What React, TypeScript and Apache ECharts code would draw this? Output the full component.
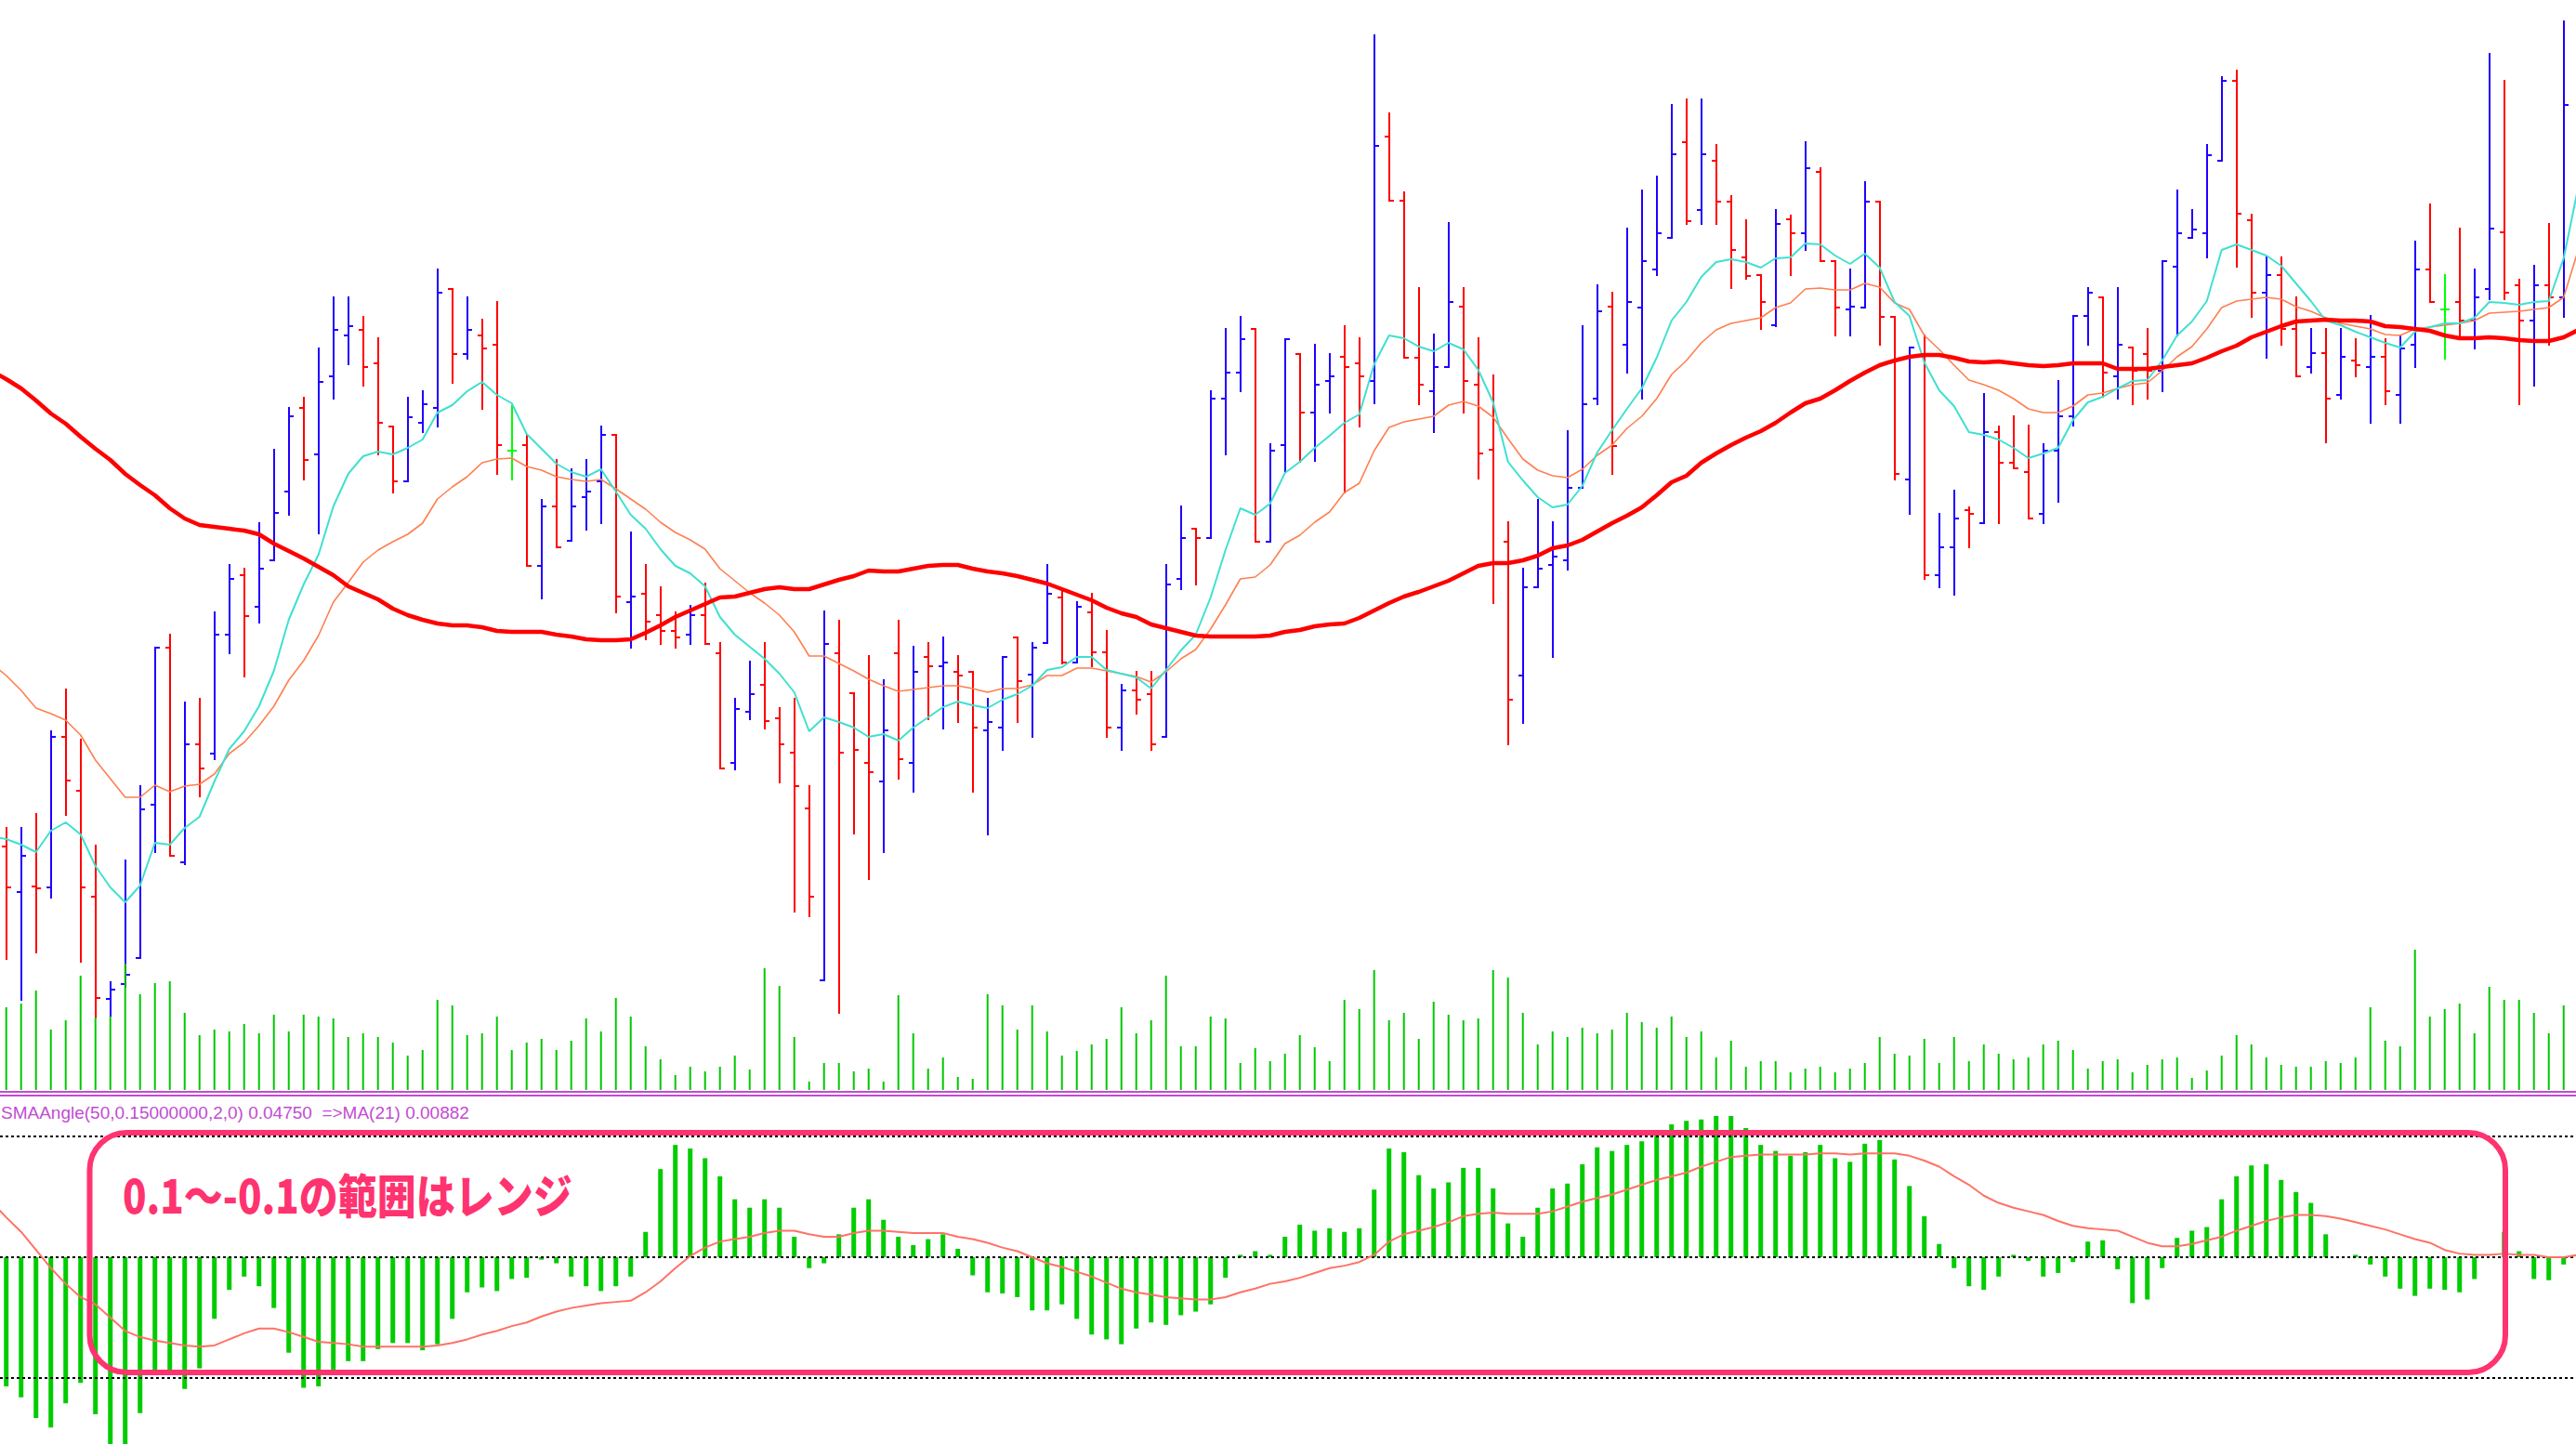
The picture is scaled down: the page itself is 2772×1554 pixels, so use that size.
import React, { useEffect, useRef } from "react";
import * as echarts from "echarts";

const WIDTH = 2772;
const HEIGHT = 1554;

// ---- price bars (points) ----
const opens = [
  289, 240, 246, 245, 407, 349, 235, 125, 141, 169,
  334, 503, 272, 399, 389, 517, 581, 547, 597, 671,
  761, 711, 795, 839, 845, 809, 741, 682, 745, 761,
  889, 819, 839, 829, 715, 721, 591, 655, 618, 665,
  682, 732, 552, 561, 538, 521, 517, 538, 497, 379,
  434, 463, 427, 390, 330, 145, 497, 454, 379, 359,
  497, 379, 493, 483, 477, 477, 414, 417, 514, 474,
  508, 557, 487, 541, 498, 417, 457, 453, 407, 577,
  631, 621, 771, 799, 846, 617, 721, 819, 756, 790,
  816, 809, 790, 1053, 984, 815, 779, 805, 870, 786,
  716, 617, 473, 568, 592, 597, 675, 771, 870, 829,
  869, 910, 944, 1047, 974, 1027, 983, 923, 904, 850,
  964, 949, 1015, 919, 867, 869, 983, 859, 684, 818,
  581, 611, 651, 637, 735, 702, 692, 647, 715, 752,
  860, 880, 795, 826, 819, 801, 913, 944, 949, 1027,
  1113, 963, 885, 904, 846, 805, 820, 775, 812, 805,
  816, 775, 829, 910, 867, 875, 855, 889, 950, 893,
  855, 893, 880,
];
const highs = [
  309, 309, 324, 413, 458, 404, 290, 143, 274, 354,
  503, 517, 444, 448, 541, 592, 588, 637, 716, 761,
  772, 825, 880, 880, 859, 836, 741, 772, 779, 910,
  889, 880, 856, 875, 763, 732, 662, 705, 695, 705,
  741, 732, 627, 592, 568, 541, 548, 572, 508, 448,
  488, 508, 438, 448, 354, 542, 532, 454, 494, 468,
  532, 504, 508, 514, 494, 477, 448, 493, 514, 508,
  592, 566, 552, 561, 521, 463, 477, 477, 592, 655,
  631, 779, 846, 859, 846, 722, 835, 819, 829, 819,
  849, 836, 1162, 1078, 993, 890, 840, 960, 890, 836,
  796, 638, 588, 662, 638, 736, 849, 893, 885, 954,
  995, 1010, 1087, 1093, 1093, 1044, 989, 963, 904, 974,
  968, 1047, 1019, 919, 910, 1004, 983, 859, 826, 839,
  647, 672, 654, 776, 741, 752, 742, 722, 790, 860,
  890, 880, 890, 826, 846, 919, 995, 974, 1044, 1117,
  1124, 969, 923, 923, 880, 846, 846, 846, 835, 860,
  835, 839, 940, 980, 904, 954, 910, 1142, 1113, 899,
  914, 959, 1177,
];
const lows = [
  168, 124, 175, 234, 323, 165, 105, 107, 138, 169,
  283, 279, 270, 343, 383, 497, 472, 530, 597, 646,
  684, 626, 771, 808, 785, 711, 670, 682, 735, 741,
  788, 814, 760, 690, 684, 591, 556, 611, 618, 630,
  637, 541, 503, 512, 507, 503, 507, 507, 373, 372,
  426, 416, 358, 219, 214, 145, 110, 303, 254, 283,
  362, 348, 426, 416, 423, 348, 302, 393, 423, 407,
  508, 486, 487, 483, 407, 393, 432, 393, 407, 566,
  571, 621, 711, 779, 617, 617, 692, 703, 704, 756,
  670, 741, 766, 984, 815, 765, 735, 805, 756, 685,
  551, 399, 422, 568, 493, 587, 675, 765, 690, 799,
  771, 904, 944, 959, 959, 959, 890, 900, 846, 849,
  904, 931, 919, 839, 839, 869, 829, 684, 647, 577,
  568, 560, 611, 637, 637, 696, 642, 637, 660, 742,
  829, 773, 771, 765, 771, 779, 839, 944, 923, 1027,
  913, 859, 815, 829, 795, 799, 724, 771, 795, 745,
  765, 745, 805, 875, 814, 836, 825, 878, 878, 765,
  785, 829, 859,
];
const closes = [
  245, 279, 244, 407, 360, 245, 126, 135, 151, 329,
  503, 279, 399, 373, 517, 577, 537, 588, 648, 752,
  705, 789, 845, 849, 805, 745, 682, 751, 765, 885,
  819, 845, 825, 721, 715, 591, 655, 611, 655, 671,
  732, 558, 558, 531, 521, 514, 538, 507, 373, 437,
  453, 424, 399, 354, 235, 507, 390, 393, 369, 414,
  383, 477, 483, 487, 473, 417, 423, 493, 467, 503,
  561, 487, 547, 498, 417, 457, 447, 399, 571, 621,
  621, 771, 799, 835, 617, 715, 835, 756, 786, 795,
  805, 795, 1043, 984, 815, 786, 805, 875, 790, 712,
  595, 447, 568, 588, 601, 675, 765, 865, 720, 875,
  919, 949, 1034, 962, 1034, 983, 931, 903, 875, 959,
  949, 1019, 919, 869, 870, 983, 859, 690, 826, 581,
  611, 642, 647, 735, 702, 696, 642, 715, 752, 860,
  885, 799, 829, 801, 801, 919, 949, 953, 1033, 1113,
  970, 885, 904, 846, 795, 820, 771, 816, 807, 816,
  779, 825, 910, 875, 867, 855, 880, 954, 885, 855,
  893, 880, 1087,
];
const volumes = [
  89, 93, 107, 65, 75, 123, 78, 79, 136, 103,
  115, 117, 83, 59, 65, 63, 71, 61, 81, 63,
  81, 79, 77, 57, 61, 57, 51, 37, 43, 97,
  91, 59, 61, 79, 43, 51, 55, 43, 53, 77,
  63, 99, 79, 47, 33, 16, 25, 20, 25, 37,
  22, 131, 112, 57, 9, 29, 29, 20, 23, 9,
  102, 61, 23, 35, 14, 12, 103, 91, 65, 91,
  63, 37, 42, 49, 55, 89, 61, 75, 123, 47,
  47, 79, 77, 29, 45, 31, 39, 59, 46, 31,
  97, 87, 129, 75, 83, 55, 95, 81, 75, 77,
  129, 121, 83, 49, 63, 57, 67, 61, 65, 83,
  73, 67, 79, 57, 63, 35, 53, 25, 31, 31,
  19, 23, 25, 19, 23, 29, 57, 39, 37, 55,
  29, 57, 31, 49, 39, 33, 35, 49, 53, 43,
  23, 31, 33, 19, 27, 33, 35, 13, 21, 37,
  59, 49, 35, 27, 25, 25, 31, 29, 35, 89,
  53, 47, 151, 79, 87, 93, 61, 111, 97, 97,
  83, 61, 91,
];

// ---- moving averages on price (points); first value belongs to the bar just left of the view ----
const MA_FIRST_BAR = -1;
const maFast = [
  300,
  297, 291, 283, 306, 315, 302, 268, 245, 229, 247,
  293, 291, 309, 321, 359, 394, 413, 440, 478, 533,
  571, 603, 655, 690, 709, 714, 711, 718, 727, 756,
  764, 779, 789, 775, 766, 733, 717, 701, 692, 687,
  695, 671, 646, 631, 609, 591, 583, 569, 536, 517,
  504, 491, 475, 455, 413, 428, 423, 417, 407, 410,
  403, 417, 428, 439, 445, 441, 438, 447, 453, 462,
  479, 482, 493, 493, 479, 475, 471, 459, 479, 500,
  517, 557, 608, 653, 646, 658, 691, 703, 718, 731,
  745, 754, 808, 839, 836, 827, 822, 831, 824, 802,
  767, 703, 683, 665, 654, 657, 677, 713, 737, 760,
  782, 815, 855, 875, 902, 918, 921, 918, 912, 922,
  923, 938, 937, 925, 916, 927, 912, 875, 860, 810,
  780, 763, 735, 732, 727, 718, 707, 712, 718, 748,
  767, 773, 782, 790, 791, 812, 839, 854, 876, 931,
  937, 931, 925, 914, 895, 876, 855, 850, 843, 837,
  831, 826, 843, 848, 852, 852, 858, 875, 874, 872,
  875, 876, 922, 1000,
];
const maMid = [
  486,
  473, 457, 438, 432, 425, 409, 382, 362, 342, 342,
  355, 348, 354, 356, 367, 389, 401, 419, 440, 468,
  489, 516, 552, 573, 595, 608, 617, 625, 637, 663,
  676, 687, 702, 706, 707, 698, 694, 687, 684, 682,
  684, 674, 663, 652, 638, 627, 619, 609, 588, 575,
  562, 551, 538, 520, 494, 494, 486, 478, 469, 462,
  456, 458, 460, 462, 462, 459, 455, 459, 459, 463,
  473, 473, 481, 481, 478, 475, 472, 466, 477, 491,
  501, 523, 549, 577, 579, 592, 615, 624, 638, 649,
  670, 680, 715, 740, 746, 749, 752, 764, 768, 763,
  751, 728, 706, 694, 688, 686, 695, 710, 721, 739,
  752, 771, 797, 812, 831, 845, 852, 855, 858, 869,
  874, 889, 890, 888, 888, 895, 891, 874, 867, 839,
  824, 807, 791, 786, 780, 771, 760, 756, 756, 763,
  775, 777, 782, 786, 788, 801, 816, 827, 846, 869,
  876, 878, 880, 878, 870, 865, 858, 852, 849, 846,
  840, 839, 846, 848, 850, 852, 855, 863, 864, 865,
  867, 869, 880, 932,
];
const maSlow = [
  801,
  792, 782, 769, 755, 744, 730, 717, 705, 690, 678,
  667, 653, 642, 635, 633, 631, 629, 625, 615, 607,
  599, 590, 581, 569, 562, 555, 545, 538, 533, 529,
  527, 527, 525, 521, 520, 520, 520, 517, 515, 512,
  511, 511, 512, 519, 527, 536, 543, 550, 557, 558,
  562, 566, 568, 566, 566, 571, 576, 580, 586, 585,
  585, 588, 591, 592, 592, 588, 585, 583, 580, 576,
  572, 566, 560, 554, 546, 540, 536, 528, 524, 520,
  516, 515, 515, 515, 515, 516, 520, 522, 526, 528,
  529, 535, 543, 551, 558, 563, 569, 575, 583, 591,
  594, 594, 597, 602, 610, 613, 619, 628, 637, 645,
  654, 667, 681, 688, 702, 712, 721, 729, 736, 745,
  756, 766, 771, 780, 790, 799, 807, 812, 816, 818,
  818, 815, 811, 810, 811, 809, 807, 806, 807, 809,
  809, 809, 803, 803, 803, 805, 807, 809, 815, 822,
  828, 837, 843, 849, 854, 855, 856, 855, 855, 854,
  849, 848, 846, 844, 839, 836, 836, 837, 836, 834,
  833, 833, 837, 845,
];

// ---- SMAAngle sub-window ----
const angleHist = [
  -0.107, -0.116, -0.133, -0.141, -0.121, -0.104, -0.130, -0.165, -0.165, -0.129,
  -0.094, -0.094, -0.109, -0.092, -0.051, -0.027, -0.016, -0.024, -0.042, -0.079,
  -0.108, -0.107, -0.094, -0.086, -0.086, -0.076, -0.071, -0.071, -0.077, -0.072,
  -0.051, -0.029, -0.025, -0.028, -0.018, -0.017, -0.002, -0.005, -0.016, -0.024,
  -0.028, -0.024, -0.016, 0.021, 0.073, 0.093, 0.090, 0.082, 0.067, 0.048,
  0.041, 0.048, 0.041, 0.017, -0.009, -0.005, 0.019, 0.041, 0.048, 0.031,
  0.017, 0.010, 0.015, 0.019, 0.007, -0.015, -0.029, -0.030, -0.033, -0.044,
  -0.044, -0.039, -0.051, -0.064, -0.068, -0.072, -0.059, -0.054, -0.056, -0.048,
  -0.045, -0.039, -0.017, 0.002, 0.005, 0.002, 0.017, 0.027, 0.022, 0.024,
  0.021, 0.024, 0.056, 0.090, 0.087, 0.068, 0.057, 0.062, 0.074, 0.074,
  0.057, 0.028, 0.017, 0.041, 0.057, 0.061, 0.077, 0.091, 0.088, 0.093,
  0.096, 0.101, 0.110, 0.113, 0.114, 0.117, 0.117, 0.107, 0.093, 0.088,
  0.084, 0.087, 0.093, 0.082, 0.079, 0.094, 0.097, 0.081, 0.059, 0.034,
  0.011, -0.009, -0.024, -0.027, -0.016, 0.002, -0.003, -0.016, -0.013, -0.004,
  0.013, 0.014, -0.010, -0.038, -0.035, -0.009, 0.016, 0.022, 0.025, 0.048,
  0.067, 0.076, 0.077, 0.064, 0.054, 0.045, 0.019, 0, 0.002, -0.006,
  -0.016, -0.026, -0.032, -0.026, -0.027, -0.029, -0.018, 0, 0.021, 0.005,
  -0.018, -0.019, -0.006,
];
const angleMA = [
  0.046,
  0.033, 0.021, 0.006, -0.009, -0.022, -0.033, -0.039, -0.050, -0.061, -0.066,
  -0.069, -0.071, -0.073, -0.074, -0.073, -0.068, -0.063, -0.059, -0.059, -0.062,
  -0.066, -0.070, -0.071, -0.072, -0.074, -0.074, -0.074, -0.074, -0.074, -0.073,
  -0.071, -0.068, -0.064, -0.061, -0.057, -0.054, -0.049, -0.045, -0.042, -0.040,
  -0.038, -0.037, -0.036, -0.029, -0.020, -0.009, 0.001, 0.008, 0.013, 0.015,
  0.017, 0.020, 0.022, 0.022, 0.019, 0.017, 0.017, 0.020, 0.022, 0.022,
  0.021, 0.020, 0.020, 0.020, 0.017, 0.015, 0.012, 0.008, 0.005, 0.000,
  -0.005, -0.008, -0.012, -0.016, -0.021, -0.026, -0.029, -0.031, -0.033, -0.034,
  -0.035, -0.035, -0.033, -0.029, -0.026, -0.022, -0.020, -0.017, -0.013, -0.009,
  -0.007, -0.004, 0.002, 0.013, 0.019, 0.022, 0.025, 0.029, 0.034, 0.036,
  0.037, 0.036, 0.036, 0.036, 0.038, 0.042, 0.046, 0.049, 0.052, 0.056,
  0.060, 0.064, 0.067, 0.070, 0.075, 0.079, 0.083, 0.084, 0.085, 0.085,
  0.085, 0.085, 0.086, 0.086, 0.085, 0.086, 0.086, 0.086, 0.084, 0.080,
  0.075, 0.067, 0.060, 0.051, 0.045, 0.041, 0.038, 0.035, 0.030, 0.026,
  0.024, 0.023, 0.022, 0.017, 0.012, 0.009, 0.009, 0.011, 0.014, 0.017,
  0.022, 0.026, 0.030, 0.033, 0.035, 0.035, 0.034, 0.032, 0.029, 0.026,
  0.023, 0.019, 0.015, 0.012, 0.006, 0.003, 0.002, 0.002, 0.003, 0.002,
  0.002, 0.000, 0.000, 0.002,
];
const rangeLevels = [0.1, 0, -0.1];

const indicatorLabel = "SMAAngle(50,0.15000000,2,0) 0.04750  =>MA(21) 0.00882";
const noteText = "0.1～-0.1の範囲はレンジ";

const BLUE = "#2000FF";
const RED = "#FF0000";
const LIME = "#00FF00";
const VOL_GREEN = "#00C800";
const HIST_GREEN = "#00CC00";
const CYAN = "#40E0D0";
const CORAL = "#FF7F50";
const MA_RED = "#FF0000";
const SALMON = "#FF7266";
const MAGENTA = "#C24CD2";
const PINK = "#FF3370";

const X_MIN = -0.42;
const X_MAX = 172.83;

export default function App() {
  const ref = useRef<HTMLDivElement>(null);

  useEffect(() => {
    const el = ref.current;
    if (!el) return;
    const chart = echarts.init(el, null, { renderer: "svg", width: WIDTH, height: HEIGHT });

    const ohlcData = opens.map((o, i) => [i, o, highs[i], lows[i], closes[i]]);
    const toXY = (arr: number[], first = 0) => arr.map((v, i) => [i + first, v]);

    const renderBar = (params: any, api: any) => {
      const i = api.value(0);
      const o = api.value(1);
      const h = api.value(2);
      const l = api.value(3);
      const c = api.value(4);
      const pt = api.coord([i, h]);
      const pb = api.coord([i, l]);
      const po = api.coord([i, o]);
      const pc = api.coord([i, c]);
      const x = Math.round(pt[0]);
      const color = c > o ? BLUE : c < o ? RED : LIME;
      const st = { stroke: color, lineWidth: 2 };
      const yo = Math.round(po[1]);
      const yc = Math.round(pc[1]);
      return {
        type: "group",
        children: [
          { type: "line", shape: { x1: x, y1: Math.round(pt[1]) - 1, x2: x, y2: Math.round(pb[1]) + 1 }, style: st },
          { type: "line", shape: { x1: x - 5, y1: yo, x2: x, y2: yo }, style: st },
          { type: "line", shape: { x1: x, y1: yc, x2: x + 5, y2: yc }, style: st },
        ],
      };
    };

    const maLine = (data: number[], color: string, width: number, z: number) => ({
      type: "line",
      xAxisIndex: 0,
      yAxisIndex: 0,
      data: toXY(data, MA_FIRST_BAR),
      showSymbol: false,
      symbol: "none",
      smooth: false,
      clip: true,
      lineStyle: { color, width },
      itemStyle: { color },
      z,
      silent: true,
    });

    const option: any = {
      animation: false,
      backgroundColor: "#ffffff",
      grid: [
        { left: 0, top: 0, width: WIDTH, height: 1173 },
        { left: 0, top: 973, width: WIDTH, height: 200 },
        { left: 0, top: 1180, width: WIDTH, height: 374 },
      ],
      xAxis: [0, 1, 2].map((g) => ({
        type: "value",
        gridIndex: g,
        min: X_MIN,
        max: X_MAX,
        show: false,
      })),
      yAxis: [
        { type: "value", gridIndex: 0, min: 27, max: 1200, show: false },
        { type: "value", gridIndex: 1, min: 0, max: 200, show: false },
        { type: "value", gridIndex: 2, min: -0.1546, max: 0.1331, show: false },
      ],
      series: [
        {
          type: "custom",
          name: "price",
          xAxisIndex: 0,
          yAxisIndex: 0,
          data: ohlcData,
          encode: { x: 0, y: [1, 2, 3, 4] },
          renderItem: renderBar,
          z: 2,
          silent: true,
        },
        {
          type: "bar",
          name: "volume",
          xAxisIndex: 1,
          yAxisIndex: 1,
          data: toXY(volumes),
          barWidth: 2,
          itemStyle: { color: VOL_GREEN },
          z: 3,
          silent: true,
        },
        maLine(maMid, CORAL, 1.6, 4),
        maLine(maFast, CYAN, 2, 5),
        maLine(maSlow, MA_RED, 4.5, 6),
        {
          type: "bar",
          name: "SMAAngle",
          xAxisIndex: 2,
          yAxisIndex: 2,
          data: toXY(angleHist),
          barWidth: 5,
          itemStyle: { color: HIST_GREEN },
          z: 3,
          silent: true,
          markLine: {
            silent: true,
            symbol: ["none", "none"],
            label: { show: false },
            lineStyle: { color: "#000000", type: [3, 3], width: 2 },
            data: rangeLevels.map((v) => ({ yAxis: v })),
            z: 4,
          },
        },
        {
          type: "line",
          name: "MA(21)",
          xAxisIndex: 2,
          yAxisIndex: 2,
          data: toXY(angleMA, MA_FIRST_BAR),
          showSymbol: false,
          symbol: "none",
          clip: true,
          lineStyle: { color: SALMON, width: 2 },
          itemStyle: { color: SALMON },
          z: 5,
          silent: true,
        },
      ],
      graphic: [
        { type: "rect", z: 50, shape: { x: 0, y: 1174, width: WIDTH, height: 2 }, style: { fill: MAGENTA } },
        { type: "rect", z: 50, shape: { x: 0, y: 1178, width: WIDTH, height: 2 }, style: { fill: MAGENTA } },
        {
          type: "text",
          z: 50,
          x: 1,
          y: 1197,
          style: {
            text: indicatorLabel,
            fill: MAGENTA,
            fontSize: 19,
            fontFamily: "'Liberation Sans', Arial, sans-serif",
            textAlign: "left",
            textVerticalAlign: "middle",
            align: "left",
            verticalAlign: "middle",
          },
        },
        {
          type: "rect",
          z: 60,
          shape: { x: 96.5, y: 1219, width: 2599.5, height: 258, r: 40 },
          style: { fill: "none", stroke: PINK, lineWidth: 6 },
        },
        {
          type: "text",
          z: 61,
          x: 132,
          y: 1284,
          scaleX: 0.84,
          style: {
            text: noteText,
            fill: "#ffffff",
            stroke: "#ffffff",
            lineWidth: 8,
            fontSize: 50,
            fontWeight: 900,
            fontFamily: "'Noto Sans CJK JP', sans-serif",
            textAlign: "left",
            textVerticalAlign: "middle",
            align: "left",
            verticalAlign: "middle",
            shadowColor: "rgba(0,0,0,0.5)",
            shadowBlur: 7,
            shadowOffsetX: 3,
            shadowOffsetY: 5,
          },
        },
        {
          type: "text",
          z: 62,
          x: 132,
          y: 1284,
          scaleX: 0.84,
          style: {
            text: noteText,
            fill: PINK,
            fontSize: 50,
            fontWeight: 900,
            fontFamily: "'Noto Sans CJK JP', sans-serif",
            textAlign: "left",
            textVerticalAlign: "middle",
            align: "left",
            verticalAlign: "middle",
          },
        },
      ],
    };

    chart.setOption(option);
    return () => {
      chart.dispose();
    };
  }, []);

  return (
    <div
      ref={ref}
      style={{
        position: "fixed",
        left: 0,
        top: 0,
        width: WIDTH,
        height: HEIGHT,
        background: "#ffffff",
        overflow: "hidden",
      }}
    />
  );
}
